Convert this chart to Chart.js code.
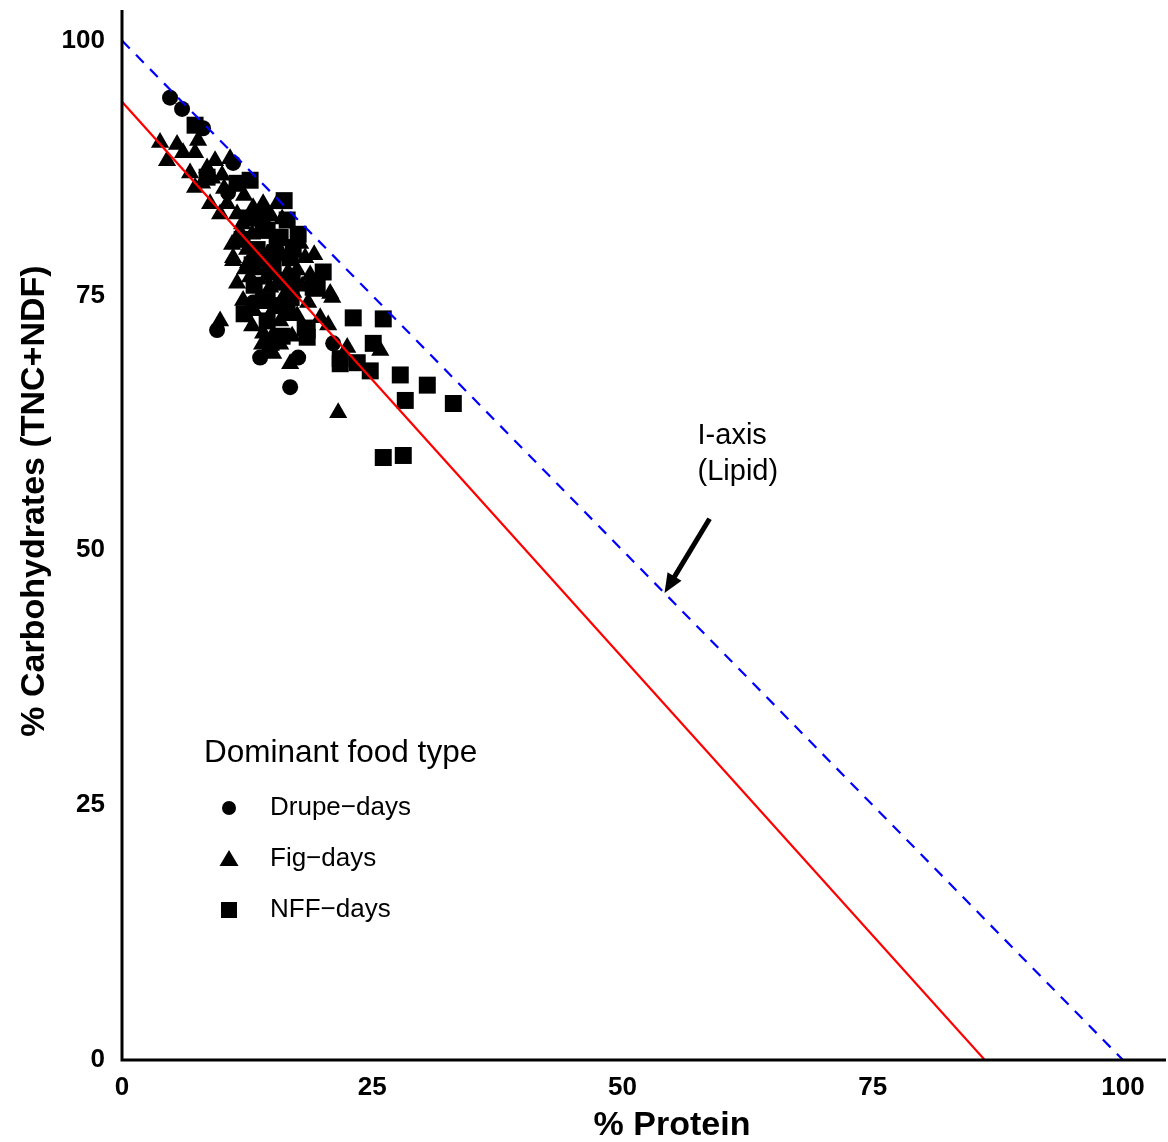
<!DOCTYPE html>
<html>
<head>
<meta charset="utf-8">
<title>Protein vs carbohydrates</title>
<script src="https://cdn.jsdelivr.net/npm/chart.js@4.4.1/dist/chart.umd.min.js"></script>
<style>
  html, body { margin: 0; padding: 0; background: #fff; }
  canvas { display: block; }
</style>
</head>
<body>
<canvas id="c" width="1168" height="1142"></canvas>
<script>
// % protein, % carbohydrates per day, grouped by dominant food type
const drupeDays = [
  [4.8,94.4],[6.0,93.3],[8.1,91.4],[11.1,88.0],[10.6,85.1],[9.5,71.6],
  [13.8,68.9],[17.6,68.9],[16.8,66.0],[13.1,74.3],[21.1,70.3]
];
const figDays = [
  [3.8,90.0],[4.5,88.2],[6.1,89.0],[7.3,89.0],[7.6,90.2],[9.3,88.2],[10.8,88.4],
  [7.3,85.6],[8.8,84.0],[9.8,83.0],[11.5,83.0],[13.1,83.6],[15.5,84.0],[14.1,84.0],
  [17.8,80.1],[18.3,78.7],[11.5,80.4],[11.1,78.4],[11.1,78.7],[11.5,76.2],[12.1,74.5],
  [14.1,71.3],[15.1,69.3],[16.8,68.3],[20.8,75.2],[9.8,72.5],[15.8,72.5],[19.8,72.8],
  [22.5,69.9],[21.0,74.8],[25.8,69.6],[21.6,63.5],[17.1,75.3],[20.6,72.1],
  [12.5,79.5],[13.5,77.5],[12.8,76.8],[13.2,73.5],[14.8,75.8],[15.5,77.0],[16.2,75.0],
  [16.0,79.0],[17.5,77.5],[18.8,77.0],[17.5,73.0],[14.0,70.2],[15.0,71.0],[13.0,81.0],
  [16.0,82.5],[14.5,79.0],[12.0,82.0],[10.5,84.0],[9.0,86.5],[10.0,86.8],[8.0,86.0],
  [17.0,71.0],
  [11.8,81.2],[12.6,78.2],[13.8,75.0],[14.3,76.6],[15.2,73.8],[16.6,77.3],[17.3,79.2],
  [18.0,75.9],[13.6,82.3],[12.3,77.6],[11.0,80.0],[13.0,72.0],[14.6,69.8],[15.8,70.2],
  [16.4,73.0],[18.6,74.3],[19.2,79.0],[14.9,82.8],[10.2,85.5],[12.2,84.8],[8.5,87.5],
  [6.8,87.0],[5.5,89.8]
];
const nffDays = [
  [7.3,91.7],[8.5,86.6],[12.8,86.3],[20.1,77.3],[16.5,82.4],[15.5,80.7],[14.5,81.4],
  [17.1,79.7],[19.1,75.8],[18.3,71.8],[18.5,70.9],[23.1,72.8],[21.8,68.3],[15.1,77.7],
  [14.5,74.5],[15.8,80.7],[14.1,81.4],[16.8,78.7],[19.5,75.7],[26.1,72.7],[25.1,70.3],
  [24.8,67.6],[27.8,67.2],[30.5,66.2],[28.3,64.7],[33.1,64.4],[26.1,59.1],[28.1,59.3],
  [21.8,68.8],[23.5,68.4],[18.5,71.6],
  [13.5,79.5],[14.8,77.5],[15.5,74.0],[16.5,73.5],[17.0,76.5],[13.0,78.0],[12.0,80.5],
  [14.0,83.0],[11.5,86.0],[16.0,71.0],[14.5,72.5],
  [13.2,76.0],[14.2,78.6],[15.9,76.3],[16.9,74.8],[12.6,82.6],[15.3,79.2],[17.6,81.0],
  [16.2,84.3],[12.2,73.2],[14.9,70.4]
];
// reference lines: fitted line and the lipid isoline (protein + carbs = 100)
const fitLine = [[0,94.0],[86.2,0]];
const lipidAxis = [[0,100],[100,0]];
const xTicks = [0,25,50,75,100];
const yTicks = [0,25,50,75,100];
const legendTitle = 'Dominant food type';
const legendLabels = ['Drupe\u2212days','Fig\u2212days','NFF\u2212days'];
const arrowFrom = [58.7,53.1], arrowTo = [54.2,45.8];
const noteLines = ['I-axis','(Lipid)'];

const pts = a => a.map(p => ({x:p[0], y:p[1]}));
const FONT = '"Liberation Sans", Arial, sans-serif';

const overlay = {
  id: 'overlay',
  afterDraw(chart) {
    const {ctx, scales:{x, y}} = chart;
    ctx.save();
    ctx.fillStyle = '#000';
    // axis titles
    ctx.font = 'bold 34px ' + FONT;
    ctx.textAlign = 'center'; ctx.textBaseline = 'middle';
    ctx.fillText('% Protein', 672, 1126);
    ctx.save();
    ctx.translate(35, 501); ctx.rotate(-Math.PI/2);
    ctx.fillText('% Carbohydrates (TNC+NDF)', 0, 0);
    ctx.restore();

    // legend
    ctx.textAlign = 'left';
    ctx.font = '31.5px ' + FONT;
    ctx.fillText(legendTitle, 204, 753);
    ctx.font = '26px ' + FONT;
    const ly = [808, 859, 910];
    legendLabels.forEach((t, i) => ctx.fillText(t, 270, ly[i]));
    ctx.beginPath(); ctx.arc(229, ly[0], 7, 0, Math.PI*2); ctx.fill();
    ctx.beginPath(); ctx.moveTo(229, ly[1]-9); ctx.lineTo(238.5, ly[1]+7); ctx.lineTo(219.5, ly[1]+7); ctx.closePath(); ctx.fill();
    ctx.fillRect(221, ly[2]-8, 16, 16);

    // I-axis note and arrow
    ctx.font = '29px ' + FONT;
    const nx = x.getPixelForValue(57.5);
    ctx.fillText(noteLines[0], nx, y.getPixelForValue(61.2));
    ctx.fillText(noteLines[1], nx, y.getPixelForValue(57.7));
    const x0 = x.getPixelForValue(arrowFrom[0]), y0 = y.getPixelForValue(arrowFrom[1]);
    const x1 = x.getPixelForValue(arrowTo[0]), y1 = y.getPixelForValue(arrowTo[1]);
    const ang = Math.atan2(y1 - y0, x1 - x0);
    ctx.strokeStyle = '#000'; ctx.lineWidth = 5;
    ctx.beginPath(); ctx.moveTo(x0, y0);
    ctx.lineTo(x1 - 12*Math.cos(ang), y1 - 12*Math.sin(ang)); ctx.stroke();
    ctx.beginPath();
    ctx.moveTo(x1, y1);
    ctx.lineTo(x1 - 21*Math.cos(ang - 0.4), y1 - 21*Math.sin(ang - 0.4));
    ctx.lineTo(x1 - 21*Math.cos(ang + 0.4), y1 - 21*Math.sin(ang + 0.4));
    ctx.closePath(); ctx.fill();
    ctx.restore();
  }
};

const axisLines = {
  id: 'axisLines',
  afterDatasetsDraw(chart) {
    const {ctx, chartArea:a} = chart;
    ctx.save();
    ctx.strokeStyle = '#000'; ctx.lineWidth = 3;
    ctx.beginPath();
    ctx.moveTo(a.left, a.top); ctx.lineTo(a.left, a.bottom); ctx.lineTo(a.right, a.bottom);
    ctx.stroke();
    ctx.restore();
  }
};

const scatter = (data, style, r) => ({
  type: 'scatter', data: pts(data), pointStyle: style, pointRadius: r, pointHoverRadius: r,
  backgroundColor: '#000', borderColor: '#000', borderWidth: 0
});

new Chart(document.getElementById('c'), {
  type: 'scatter',
  data: {
    datasets: [
      { type:'line', data: pts(lipidAxis), borderColor:'#0000ff', borderWidth:2.2, borderDash:[11,9], pointRadius:0, fill:false },
      { type:'line', data: pts(fitLine), borderColor:'#ff0000', borderWidth:2.2, pointRadius:0, fill:false },
      scatter(figDays, 'triangle', 10.5),
      scatter(nffDays, 'rect', 12),
      scatter(drupeDays, 'circle', 8)
    ]
  },
  options: {
    responsive: false, animation: false, events: [],
    layout: { autoPadding: false, padding: { top: 10, right: 2, left: 0, bottom: 0 } },
    plugins: { legend: { display: false }, tooltip: { enabled: false } },
    scales: {
      x: {
        type: 'linear', min: 0, max: 104.3,
        afterBuildTicks: s => { s.ticks = xTicks.map(v => ({value: v})); },
        afterFit: s => { s.height = 82; s.paddingLeft = 0; s.paddingRight = 0; },
        grid: { display: false, drawTicks: true, tickLength: 9, tickColor: '#000', tickWidth: 2 },
        border: { display: false },
        ticks: { color: '#000', font: { family: FONT, size: 26, weight: 'bold' }, padding: 3, maxRotation: 0 }
      },
      y: {
        type: 'linear', min: 0, max: 103,
        afterBuildTicks: s => { s.ticks = yTicks.map(v => ({value: v})); },
        afterFit: s => { s.width = 122; s.paddingTop = 0; s.paddingBottom = 0; },
        grid: { display: false, drawTicks: true, tickLength: 9, tickColor: '#000', tickWidth: 2 },
        border: { display: false },
        ticks: { color: '#000', font: { family: FONT, size: 26, weight: 'bold' }, padding: 8 }
      }
    }
  },
  plugins: [axisLines, overlay]
});
</script>
</body>
</html>
